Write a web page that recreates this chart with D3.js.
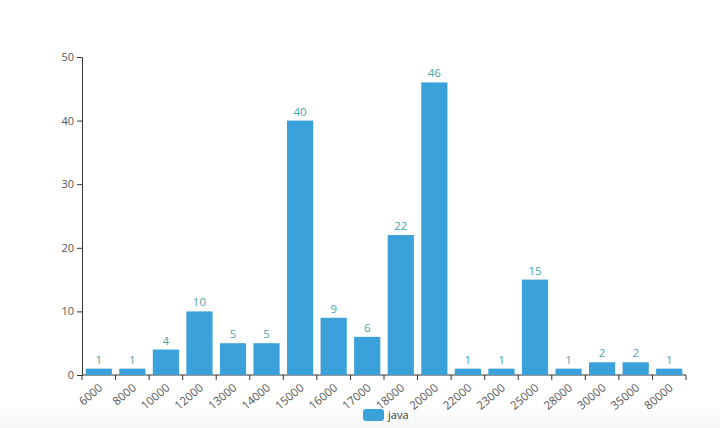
<!DOCTYPE html>
<html><head><meta charset="utf-8">
<script src="https://cdn.jsdelivr.net/npm/d3@7"></script>
<style>body{margin:0;background:#fff;font-family:"Open Sans",sans-serif;}</style>
</head><body>
<svg id="c" width="720" height="428"></svg>
<script>
const categories = ["6000","8000","10000","12000","13000","14000","15000","16000","17000","18000","20000","22000","23000","25000","28000","30000","35000","80000"];
const javaValues = [1,1,4,10,5,5,40,9,6,22,46,1,1,15,1,2,2,1];
const yTicks = [0,10,20,30,40,50];
const seriesName = "java";

(function(){
const svg = d3.select("#c");
const W=720,H=428;
const defs = svg.append("defs");
const g0 = defs.append("linearGradient").attr("id","bg").attr("x1",0).attr("y1",0).attr("x2",0).attr("y2",1);
g0.append("stop").attr("offset","0").attr("stop-color","#fff");
g0.append("stop").attr("offset","1").attr("stop-color","#f7f7f7");
svg.append("rect").attr("x",0).attr("y",405).attr("width",W).attr("height",23).attr("fill","url(#bg)");

const mLeft=82,mRight=686,mTop=57,mBottom=375;
const x = d3.scaleBand().domain(categories).range([mLeft,mRight]).paddingInner(0).paddingOuter(0);
const y = d3.scaleLinear().domain([0,50]).range([mBottom,mTop]);
const color="#3aa1db", labelColor="#4aa5a8";

// y axis
const ya = svg.append("g").attr("transform",`translate(${mLeft},0)`)
  .call(d3.axisLeft(y).tickValues(yTicks).tickSize(5).tickPadding(3));
ya.select(".domain").attr("stroke","#333");
ya.selectAll(".tick line").attr("stroke","#333");
ya.selectAll("text").attr("fill","#555").style("font-size","11px").style("font-family","Open Sans");

// x axis
const xa = svg.append("g").attr("transform",`translate(0,${mBottom})`);
xa.append("line").attr("x1",mLeft).attr("x2",mRight).attr("stroke","#333");
const bounds = categories.map(c=>x(c)).concat([mRight]);
xa.selectAll("line.tk").data(bounds).join("line").attr("class","tk")
  .attr("x1",d=>d).attr("x2",d=>d).attr("y1",0).attr("y2",5).attr("stroke","#333");
xa.selectAll("text").data(categories).join("text")
  .attr("transform",d=>`translate(${x(d)+x.bandwidth()/2+2},${11}) rotate(-40)`)
  .attr("text-anchor","end").attr("dy","0.35em")
  .attr("fill","#555").style("font-size","11.5px").text(d=>d);

// bars
const bw = x.bandwidth()*0.78;
const data = categories.map((c,i)=>({c,v:javaValues[i]}));
svg.selectAll("rect.bar").data(data).join("rect").attr("class","bar")
  .attr("x",d=>x(d.c)+(x.bandwidth()-bw)/2).attr("width",bw)
  .attr("y",d=>y(d.v)).attr("height",d=>mBottom-y(d.v)).attr("fill",color);
svg.selectAll("text.lbl").data(data).join("text").attr("class","lbl")
  .attr("x",d=>x(d.c)+x.bandwidth()/2).attr("y",d=>y(d.v)-5)
  .attr("text-anchor","middle").attr("fill",labelColor).style("font-size","11.5px").text(d=>d.v);

// legend
svg.append("rect").attr("x",363).attr("y",409).attr("width",21).attr("height",12).attr("rx",3).attr("fill",color);
svg.append("text").attr("x",388).attr("y",415).attr("dy","0.35em").attr("fill","#333").style("font-size","11px").text(seriesName);
})();
</script>
</body></html>
